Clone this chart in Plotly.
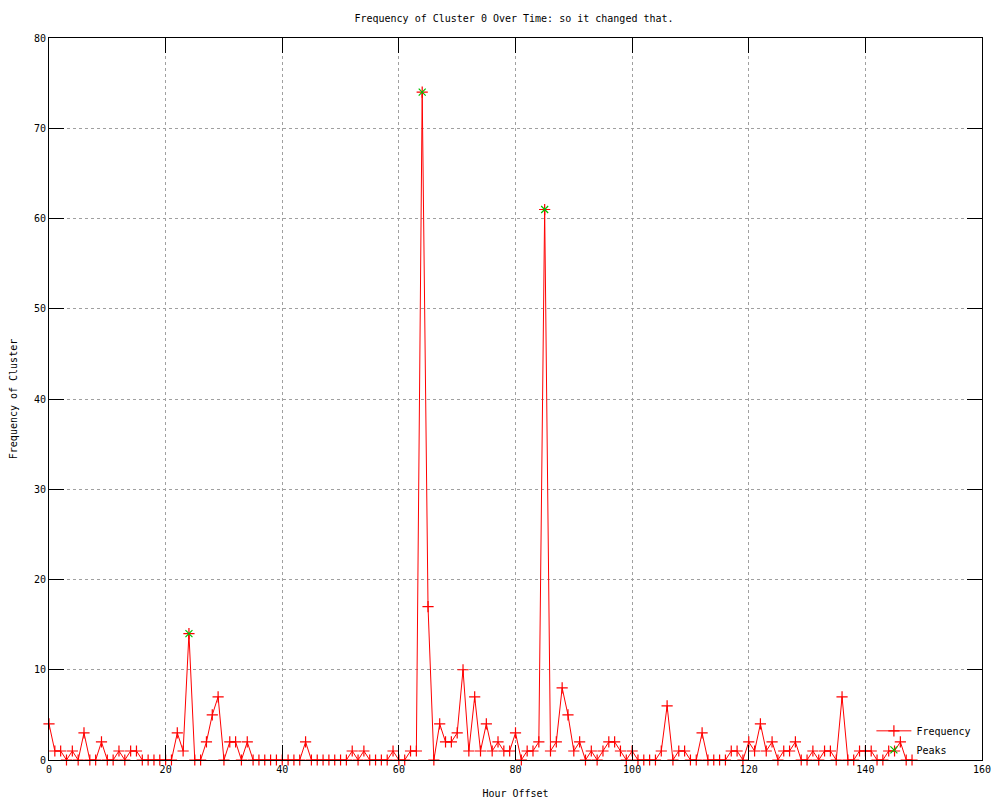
import plotly.graph_objects as go

hours = list(range(0, 149))
frequency = [
    4, 1, 1, 0, 1, 0, 3, 0, 0, 2,
    0, 0, 1, 0, 1, 1, 0, 0, 0, 0,
    0, 0, 3, 1, 14, 0, 0, 2, 5, 7,
    0, 2, 2, 0, 2, 0, 0, 0, 0, 0,
    0, 0, 0, 0, 2, 0, 0, 0, 0, 0,
    0, 0, 1, 0, 1, 0, 0, 0, 0, 1,
    0, 0, 1, 1, 74, 17, 0, 4, 2, 2,
    3, 10, 1, 7, 1, 4, 1, 2, 1, 1,
    3, 0, 1, 1, 2, 61, 1, 2, 8, 5,
    1, 2, 0, 1, 0, 1, 2, 2, 1, 0,
    1, 0, 0, 0, 0, 1, 6, 0, 1, 1,
    0, 0, 3, 0, 0, 0, 0, 1, 1, 0,
    2, 1, 4, 1, 2, 0, 1, 1, 2, 0,
    0, 1, 0, 1, 1, 0, 7, 0, 0, 1,
    1, 1, 0, 0, 1, 1, 2, 0, 0,
]
peak_hours = [24, 64, 85]
peak_values = [14, 74, 61]

x_ticks = list(range(0, 161, 20))
y_ticks = list(range(0, 81, 10))

FONT = "DejaVu Sans Mono"
FS = 10

fig = go.Figure()
fig.add_trace(go.Scatter(
    x=hours, y=frequency, name="Frequency", mode="lines+markers",
    line=dict(color="#ff0000", width=1),
    marker=dict(symbol="cross-thin", size=8, color="#ff0000",
                line=dict(color="#ff0000", width=1.2)),
    cliponaxis=False,
))
fig.add_trace(go.Scatter(
    x=peak_hours, y=peak_values, name="Peaks", mode="markers",
    marker=dict(symbol="x-thin", size=7, color="#00c000",
                line=dict(color="#00c000", width=1.2)),
    cliponaxis=False,
))

axis_common = dict(
    showline=True, linecolor="black", linewidth=1, mirror="ticks",
    ticks="inside", ticklen=15, tickcolor="black", tickwidth=1,
    showgrid=True, gridcolor="#a0a0a0", griddash="dot", gridwidth=1,
    zeroline=False, automargin=False,
    tickfont=dict(family=FONT, size=FS, color="black"),
)
fig.update_xaxes(range=[0, 160], tickvals=x_ticks,
                 title=dict(text="Hour Offset", font=dict(family=FONT, size=FS, color="black"), standoff=15),
                 **axis_common)
fig.update_yaxes(range=[0, 80], tickvals=y_ticks,
                 title=dict(text="Frequency of Cluster", font=dict(family=FONT, size=FS, color="black"), standoff=14),
                 **axis_common)

fig.update_layout(
    width=1000, height=800,
    margin=dict(l=41, r=26, t=30, b=48, autoexpand=False),
    plot_bgcolor="white", paper_bgcolor="white",
    title=dict(text="Frequency of Cluster 0 Over Time: so it changed that.",
               font=dict(family=FONT, size=FS, color="black"),
               x=(514 - 8) / 1000, xanchor="center", y=1 - 10 / 800, yanchor="middle"),
    legend=dict(x=0.994, y=-0.006, xanchor="right", yanchor="bottom",
                bgcolor="rgba(0,0,0,0)", borderwidth=0,
                font=dict(family=FONT, size=FS, color="black"),
                tracegroupgap=0, itemwidth=35),
    showlegend=True,
)

fig.write_html("out.html")
